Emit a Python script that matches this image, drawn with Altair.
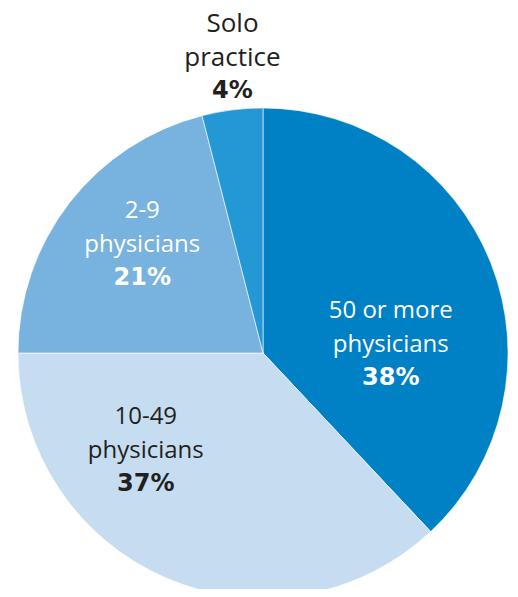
import altair as alt
import pandas as pd

categories = ["50 or more physicians", "10-49 physicians", "2-9 physicians", "Solo practice"]
name_lines = ["50 or more\nphysicians", "10-49\nphysicians", "2-9\nphysicians", "Solo\npractice"]
values = [38, 37, 21, 4]
pct_labels = ["38%", "37%", "21%", "4%"]
colors = ["#0081c6", "#c6ddf1", "#78b2df", "#2398d5"]
text_colors = ["#ffffff", "#231f20", "#ffffff", "#231f20"]
name_sizes = [24, 24, 24, 26]
label_angle = [86.4, 230.0, 311.8, 354.1]
label_radius = [128, 153, 162, 297]

df = pd.DataFrame({
    "category": categories,
    "name": name_lines,
    "value": values,
    "pct": pct_labels,
    "order": list(range(len(values))),
    "tcolor": text_colors,
    "fs": name_sizes,
    "ang": label_angle,
    "r": label_radius,
})

cx, cy = 255, 345

base = alt.Chart(df)

pie = base.mark_arc(radius=245, stroke="#ffffff", strokeWidth=0.6).encode(
    theta=alt.Theta("value:Q", stack=True),
    order=alt.Order("order:Q"),
    color=alt.Color("category:N", scale=alt.Scale(domain=categories, range=colors), legend=None),
    x=alt.value(cx),
    y=alt.value(cy),
)

lbl_base = base.transform_calculate(angr="datum.ang * PI / 180")
theta_lbl = alt.Theta("angr:Q", stack=None, scale=None)
rad_lbl = alt.Radius("r:Q", scale=None)

names = lbl_base.mark_text(
    font="Open Sans", lineHeight=34, lineBreak="\n",
    baseline="middle", align="center", dy=-34
).encode(
    theta=theta_lbl,
    radius=rad_lbl,
    text="name:N",
    size=alt.Size("fs:Q", scale=None),
    color=alt.Color("tcolor:N", scale=None),
    x=alt.value(cx),
    y=alt.value(cy),
)

pcts = lbl_base.mark_text(
    font="DejaVu Sans", fontSize=24, fontWeight="bold", baseline="middle", align="center", dy=33
).encode(
    theta=theta_lbl,
    radius=rad_lbl,
    text="pct:N",
    color=alt.Color("tcolor:N", scale=None),
    x=alt.value(cx),
    y=alt.value(cy),
)

chart = alt.layer(pie, names, pcts).resolve_scale(theta="independent", radius="independent").properties(
    width=502, height=581, padding=0, autosize=alt.AutoSizeParams(type="none")
).configure_view(stroke=None)

chart.save("out.html", embed_options={"renderer": "svg", "actions": False})
